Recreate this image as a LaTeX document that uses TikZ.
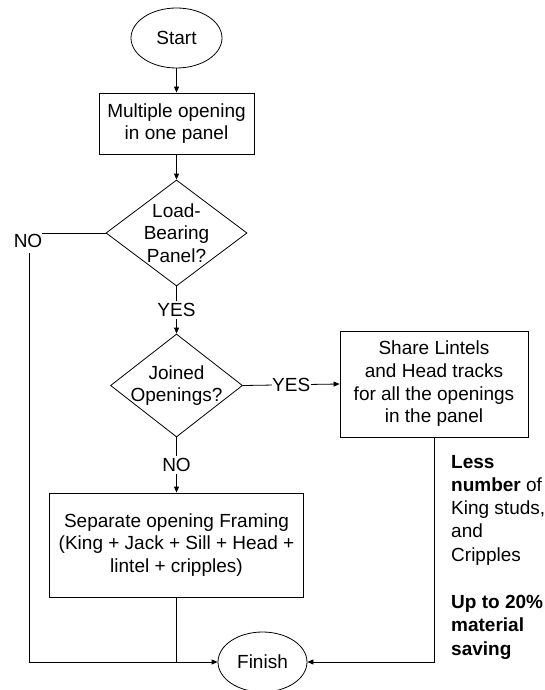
\documentclass[tikz,border=0pt]{standalone}
\usepackage{fontspec}
\setmainfont{Liberation Sans}
\usetikzlibrary{shapes.geometric,arrows.meta}
\begin{document}
\begin{tikzpicture}[x=1pt,y=-1pt,
  every node/.style={font=\fontsize{19}{22.7}\selectfont},
  line/.style={draw=black, line width=0.8pt},
  arr/.style={line, -{Triangle[length=6pt,width=5pt]}},
  term/.style={ellipse, draw, line width=0.8pt, inner sep=0pt,
    minimum width=#1, minimum height=60pt},
  proc/.style={rectangle, draw, line width=0.8pt, inner sep=0pt, align=center},
  decide/.style={diamond, draw, line width=0.8pt, inner sep=0pt},
  txt/.style={inner sep=0pt, align=center},
  lbl/.style={fill=white, inner xsep=0.5pt, inner ysep=2.5pt}
]
\useasboundingbox (0,0) rectangle (545,690);

% terminals
\node[term=91pt] (start) at (176.5,38) {Start};
\node[term=89pt] (fin) at (262.5,662) {Finish};

% process boxes
\node[proc, minimum width=155pt, minimum height=61pt] (multi) at (176.5,123.5)
  {Multiple opening\\in one panel};
\node[proc, minimum width=188pt, minimum height=106pt] (share) at (434,384)
  {Share Lintels\\and Head tracks\\for all the openings\\in the panel};
\node[proc, minimum width=254pt, minimum height=104pt] (sep) at (176.5,545)
  {Separate opening Framing\\(King + Jack + Sill + Head +\\lintel + cripples)};

% decisions (outline and text set separately to keep the outline size fixed)
\node[decide, minimum width=141pt, minimum height=106pt] (load) at (176.5,233) {};
\node[txt] (loadtxt) at (load.center) {Load-\\Bearing\\Panel?};
\node[decide, minimum width=132pt, minimum height=103pt] (joined) at (176.5,385.5) {};
\node[txt] (joinedtxt) at (joined.center) {Joined\\Openings?};

% side note
\node[inner sep=0pt, align=left, anchor=north west,
      font=\fontsize{19}{23.2}\selectfont] (note) at (451,455)
  {\textbf{Less}\\\textbf{number} of\\King studs,\\and\\Cripples\\[24.5pt]
   \textbf{Up to 20\%}\\\textbf{material}\\\textbf{saving}};

% connectors
\coordinate (lcorner) at (29,662);
\draw[arr] (start) -- (multi);
\draw[arr] (multi.south) -- (load.north);
\draw[arr] (load.south) -- (joined.north) node[lbl, midway] (yes1) {YES};
\draw[arr] (joined.east) -- (share.west) node[lbl, midway] (yes2) {YES};
\draw[arr] (joined.south) -- (sep.north) node[lbl, midway] (no2) {NO};
\draw[arr] (load.west) -| (lcorner) |- (fin.west);
\node[fill=white, inner xsep=0pt, inner ysep=0pt, minimum height=24pt] (no1) at (28,241) {NO};
\draw[line] (sep.south) -- (sep.south |- fin.west);
\draw[arr] (share.south) |- (fin.east);
\end{tikzpicture}
\end{document}
